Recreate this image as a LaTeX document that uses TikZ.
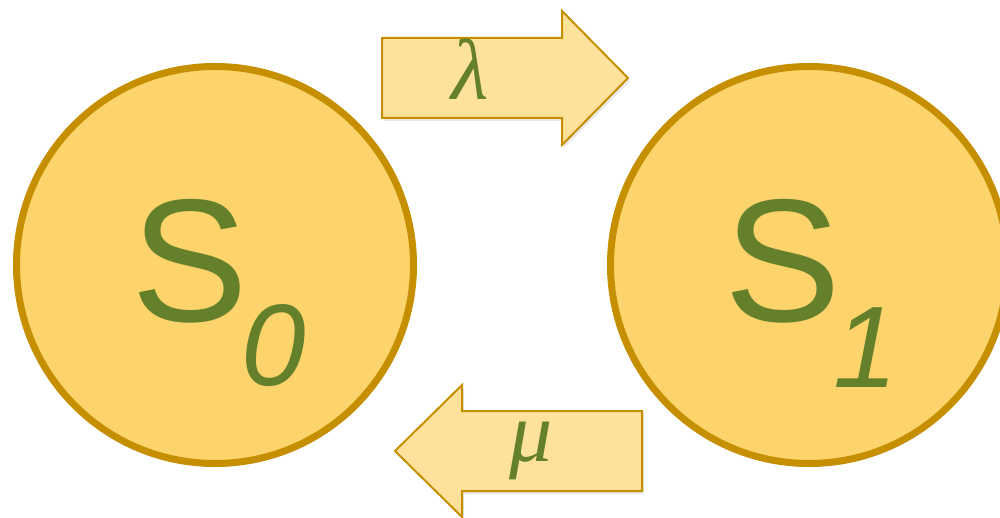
\documentclass[tikz,border=0pt]{standalone}
\usepackage{fontspec}
\setmainfont{Liberation Sans}
\newfontfamily\greekfont{Liberation Serif}
\usetikzlibrary{shadows}
\definecolor{circfill}{HTML}{FDD46C}
\definecolor{arrfill}{HTML}{FEE29B}
\definecolor{goldline}{HTML}{C68F00}
\definecolor{leaf}{HTML}{65802A}
\tikzset{
  statecirc/.style={circle, draw=goldline, fill=circfill, line width=7pt, inner sep=0pt, minimum size=397pt,
    drop shadow={opacity=0.18, shadow xshift=2pt, shadow yshift=-3pt}},
  blockarrow/.style={draw=goldline, fill=arrfill, line width=2pt, line join=miter,
    drop shadow={opacity=0.18, shadow xshift=2pt, shadow yshift=-3pt}},
  bigS/.style={inner sep=0pt, anchor=base, text=leaf, font=\fontsize{175}{175}\selectfont},
  subidx/.style={inner sep=0pt, anchor=base, text=leaf, font=\fontsize{116}{116}\selectfont\itshape},
  rate/.style={inner sep=0pt, anchor=base, text=leaf, font=\fontsize{86}{86}\selectfont\greekfont\itshape}
}
\begin{document}
\begin{tikzpicture}[x=1pt,y=-1pt]
\clip (0,0) rectangle (1000,518);
\node[statecirc] (s0) at (215,265) {};
\node[statecirc] (s1) at (809,265) {};
\node[bigS] (s0S) at (190,321) {S};
\node[subidx] (s0i) at (274,385) {0};
\node[bigS] (s1S) at (783,321) {S};
\node[subidx] (s1i) at (866,387) {1};
\path[blockarrow] (382,38) coordinate (la) -- (562,38) -- (562,11) -- (628,78) coordinate (lt) -- (562,145) -- (562,118) -- (382,118) -- cycle;
\path[blockarrow] (395,451) coordinate (mt) -- (462,385) -- (462,411) -- (642,411) -- (642,491) -- (462,491) -- (462,517) -- cycle;
\node[rate] (lam) at (470,100) {λ};
\node[rate] (mu) at (531,461) {μ};
\end{tikzpicture}
\end{document}
